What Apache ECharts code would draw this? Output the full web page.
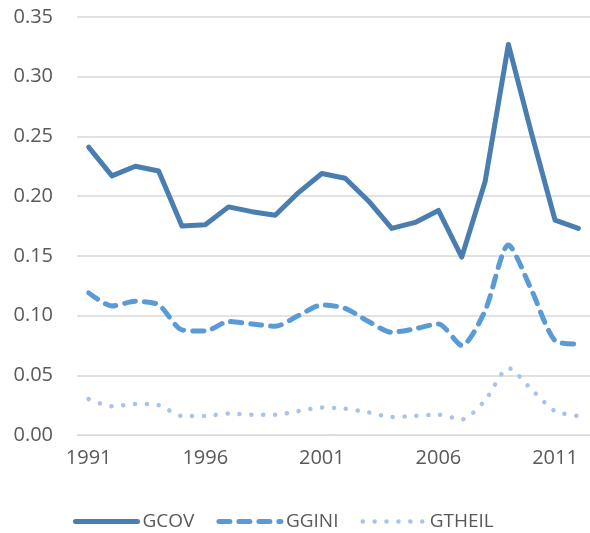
<!DOCTYPE html>
<html>
<head>
<meta charset="utf-8">
<script src="https://cdn.jsdelivr.net/npm/echarts@6/dist/echarts.min.js"></script>
<style>
  html, body { margin: 0; padding: 0; background: #fff; }
  #chart { width: 590px; height: 533px; }
</style>
</head>
<body>
<div id="chart"></div>
<script>
// years on the x axis
var years = ["1991", "1992", "1993", "1994", "1995", "1996", "1997", "1998", "1999", "2000", "2001",
  "2002", "2003", "2004", "2005", "2006", "2007", "2008", "2009", "2010", "2011", "2012"];

var gcov = [0.241, 0.217, 0.225, 0.221, 0.175, 0.176, 0.191, 0.187, 0.184, 0.203, 0.219,
  0.215, 0.196, 0.173, 0.178, 0.188, 0.149, 0.212, 0.327, 0.252, 0.180, 0.173];

var ggini = [0.119, 0.108, 0.112, 0.109, 0.088, 0.087, 0.095, 0.093, 0.091, 0.100, 0.109,
  0.106, 0.095, 0.086, 0.089, 0.093, 0.075, 0.104, 0.159, 0.121, 0.079, 0.076];

var gtheil = [0.030, 0.024, 0.026, 0.025, 0.016, 0.016, 0.018, 0.017, 0.017, 0.020, 0.023,
  0.022, 0.019, 0.015, 0.016, 0.017, 0.013, 0.029, 0.056, 0.038, 0.020, 0.016];

var seriesNames = ["GCOV", "GGINI", "GTHEIL"];

var textColor = "#595959";
var fontFamily = "'Open Sans', sans-serif";

// line looks, shared by series and legend
var styles = [
  { color: "#4a7eb0", width: 5, type: "solid", cap: "round", join: "round" },
  { color: "#5b9bd5", width: 5, type: [11, 9], cap: "round", join: "round" },
  { color: "#a9c4e8", width: 4.5, type: [0.1, 11.8], cap: "round", join: "round" }
];

var chart = echarts.init(document.getElementById("chart"));

var option = {
  animation: false,
  backgroundColor: "#ffffff",
  grid: {
    left: 77,
    top: 17,
    width: 517,
    height: 418,
    containLabel: false
  },
  legend: {
    data: seriesNames.map(function (n, i) {
      return { name: n, lineStyle: styles[i], itemStyle: { opacity: 0 } };
    }),
    left: 68,
    top: 507,
    itemWidth: 62,
    itemHeight: 14,
    itemGap: 22,
    textStyle: { color: textColor, fontSize: 19, fontFamily: fontFamily }
  },
  xAxis: {
    type: "category",
    data: years,
    boundaryGap: true,
    axisLine: { lineStyle: { color: "#d9d9d9", width: 1 } },
    axisTick: { show: false },
    axisLabel: {
      interval: 4,
      color: textColor,
      fontSize: 20,
      fontFamily: fontFamily,
      margin: 13
    }
  },
  yAxis: {
    type: "value",
    min: 0,
    max: 0.35,
    interval: 0.05,
    axisLine: { show: false },
    axisTick: { show: false },
    splitLine: { lineStyle: { color: "#d9d9d9", width: 1.5 } },
    axisLabel: {
      color: textColor,
      fontSize: 20,
      fontFamily: fontFamily,
      margin: 24,
      formatter: function (v) { return v.toFixed(2); }
    }
  },
  series: [
    {
      name: seriesNames[0],
      type: "line",
      data: gcov,
      symbol: "none",
      lineStyle: styles[0],
      itemStyle: { color: styles[0].color }
    },
    {
      name: seriesNames[1],
      type: "line",
      data: ggini,
      symbol: "none",
      smooth: 0.25,
      lineStyle: styles[1],
      itemStyle: { color: styles[1].color }
    },
    {
      name: seriesNames[2],
      type: "line",
      data: gtheil,
      symbol: "none",
      smooth: 0.25,
      lineStyle: styles[2],
      itemStyle: { color: styles[2].color }
    }
  ]
};

chart.setOption(option);
</script>
</body>
</html>
